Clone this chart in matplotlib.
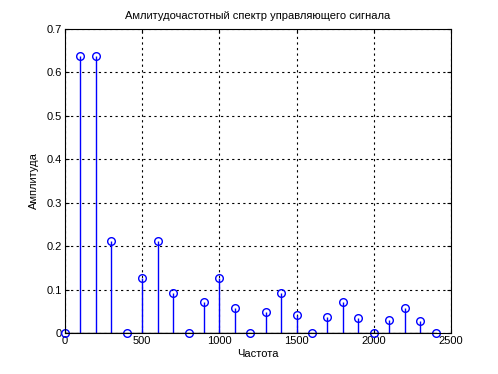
import numpy as np
import matplotlib
matplotlib.use("Agg")
import matplotlib.pyplot as plt

# Данные спектра
freq = [0, 100, 200, 300, 400, 500, 600, 700, 800, 900, 1000, 1100, 1200,
        1300, 1400, 1500, 1600, 1700, 1800, 1900, 2000, 2100, 2200, 2300, 2400]
amp = [0, 0.637, 0.637, 0.212, 0, 0.127, 0.212, 0.091, 0, 0.071, 0.127, 0.058, 0,
       0.049, 0.091, 0.042, 0, 0.037, 0.071, 0.034, 0, 0.030, 0.058, 0.028, 0]
xticks = [0, 500, 1000, 1500, 2000, 2500]
yticks = [0, 0.1, 0.2, 0.3, 0.4, 0.5, 0.6, 0.7]

plt.rcParams['font.family'] = ['Liberation Sans', 'DejaVu Sans']
plt.rcParams['font.size'] = 8

fig = plt.figure(figsize=(4.98, 3.74), dpi=100)
ax = fig.add_axes([0.1305, 0.1096, 0.7751, 0.8129])

markers, stems, base = ax.stem(freq, amp, linefmt='b-', markerfmt='bo', basefmt='k-')
plt.setp(markers, markerfacecolor='none', markeredgecolor='blue', markersize=5.5, markeredgewidth=1)
plt.setp(stems, linewidth=1)
plt.setp(base, linewidth=1)
markers.set_clip_on(False)

ax.set_xlim(0, 2500)
ax.set_ylim(0, 0.7)
ax.set_xticks(xticks)
ax.set_yticks(yticks)
ax.set_yticklabels(['0', '0.1', '0.2', '0.3', '0.4', '0.5', '0.6', '0.7'])
ax.grid(True, color='black', linestyle=(0, (2, 3)), linewidth=0.8)
ax.tick_params(direction='in', top=True, right=True, length=3, pad=2)
ax.set_axisbelow(True)

ax.set_title("Амлитудочастотный спектр управляющего сигнала", fontsize=8, pad=7)
ax.set_xlabel("Частота", labelpad=2)
ax.set_ylabel("Амплитуда", labelpad=6)

fig.savefig("out.png", dpi=100)
